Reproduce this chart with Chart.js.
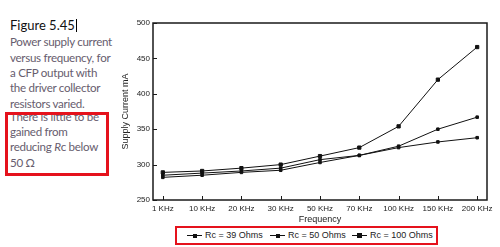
<!DOCTYPE html>
<html><head><meta charset="utf-8">
<script src="https://cdn.jsdelivr.net/npm/chart.js@4.4.0/dist/chart.umd.min.js"></script>
<style>
html,body{margin:0;padding:0;background:#fff;width:500px;height:247px;overflow:hidden;position:relative}
#wrap{position:absolute;left:110px;top:0;width:390px;height:225px}
.t{position:absolute;left:10px;white-space:nowrap;font-family:Lato,sans-serif;font-size:11.6px;letter-spacing:-0.3px;color:#675d6e;line-height:14px}
#fig{position:absolute;left:10px;top:18px;font-family:Lato,sans-serif;font-size:13px;color:#111;line-height:14px;white-space:nowrap}
#cur{display:inline-block;width:1px;height:13px;background:#000;vertical-align:-2px;margin-left:1px}
#box{position:absolute;left:5px;top:112px;width:98px;height:58px;border:3px solid #e5121c}
#legend{position:absolute;left:175px;top:226px;width:259px;height:15px;border:2.5px solid #e5121c;background:#fff;font-family:"Liberation Sans",Arial,sans-serif;font-size:9px;color:#222}
.item{position:absolute;top:0;height:15px;line-height:15px;white-space:nowrap}
.mk{position:absolute;top:7px;height:1px;background:#111}
.dot{position:absolute;background:#111}
</style></head>
<body>
<div id="fig">Figure 5.45<span id="cur"></span></div>
<div class="t" style="top:35px">Power supply current</div>
<div class="t" style="top:51px">versus frequency, for</div>
<div class="t" style="top:66px">a CFP output with</div>
<div class="t" style="top:81px">the driver collector</div>
<div class="t" style="top:97px">resistors varied.</div>
<div class="t" style="top:110px">There is little to be</div>
<div class="t" style="top:125px">gained from</div>
<div class="t" style="top:140px">reducing <i>R</i>c below</div>
<div class="t" style="top:156px">50 Ω</div>
<div id="box"></div>
<div id="wrap"><canvas id="c"></canvas></div>
<div id="legend"></div>
<script>
const categories = ['1 KHz','10 KHz','20 KHz','30 KHz','50 KHz','70 KHz','100 KHz','150 KHz','200 KHz'];
const rc39  = [282, 285, 289, 292, 303, 313, 324, 332, 338];
const rc50  = [285, 288, 291, 295, 307, 313, 326, 350, 367];
const rc100 = [289, 291, 295, 300, 312, 324, 354, 420, 466];
const seriesLabels = ['Rc = 39 Ohms','Rc = 50 Ohms','Rc = 100 Ohms'];
const yTicks = [250, 300, 350, 400, 450, 500];

const seriesValues = [rc39, rc50, rc100];
const markerSize = [3, 3, 4];
const legendLeft = [10, 93, 175];

const framePlugin = {
  id: 'frame',
  afterDatasetsDraw(chart) {
    const {ctx, chartArea: a, scales: {x, y}} = chart;
    ctx.save();
    ctx.strokeStyle = '#1a1a1a';
    ctx.lineWidth = 1.5;
    ctx.strokeRect(a.left, a.top, a.right - a.left, a.bottom - a.top);
    ctx.lineWidth = 1;
    ctx.beginPath();
    y.ticks.forEach(t => { const py = Math.round(y.getPixelForValue(t.value)) + 0.5; ctx.moveTo(a.left, py); ctx.lineTo(a.left + 4, py); });
    x.ticks.forEach(t => { const px = Math.round(x.getPixelForValue(t.value)) + 0.5; ctx.moveTo(px, a.bottom); ctx.lineTo(px, a.bottom - 4); });
    ctx.stroke();
    ctx.restore();
  }
};

const font = {family: '"Liberation Sans", Arial, sans-serif', size: 8};
new Chart(document.getElementById('c'), {
  type: 'line',
  data: {
    datasets: seriesValues.map((vals, i) => ({
      label: seriesLabels[i],
      data: vals.map((v, j) => ({x: j, y: v})),
      borderColor: '#111',
      backgroundColor: '#111',
      borderWidth: 1,
      pointStyle: 'rect',
      pointRadius: markerSize[i] / 2 + 0.3,
      pointHoverRadius: 2,
      tension: 0
    }))
  },
  options: {
    responsive: true, maintainAspectRatio: false, animation: false,
    layout: {padding: {top: 23, right: 13, left: 0, bottom: 0}},
    plugins: {legend: {display: false}, tooltip: {enabled: false}},
    scales: {
      x: {
        type: 'linear', min: -0.25, max: 8.25,
        afterBuildTicks: s => { s.ticks = categories.map((_, i) => ({value: i})); },
        afterFit: s => { s.height = 25; },
        grid: {display: false, drawTicks: false}, border: {display: false},
        ticks: {font, color: '#222', padding: 4, maxRotation: 0, autoSkip: false, callback: v => categories[v]},
        title: {display: true, text: 'Frequency', font: {family: font.family, size: 9}, color: '#222', padding: {top: 0, bottom: 0}}
      },
      y: {
        min: 250, max: 500,
        afterBuildTicks: s => { s.ticks = yTicks.map(v => ({value: v})); },
        afterFit: s => { s.width = 43; },
        grid: {display: false, drawTicks: false}, border: {display: false},
        ticks: {font, color: '#222', padding: 3},
        title: {display: true, text: 'Supply Current mA', font: {family: font.family, size: 9}, color: '#222', padding: {top: 10, bottom: 0}}
      }
    }
  },
  plugins: [framePlugin]
});

const lg = document.getElementById('legend');
seriesLabels.forEach((lab, i) => {
  const it = document.createElement('div');
  it.className = 'item';
  it.style.left = legendLeft[i] + 'px';
  const mk = document.createElement('span');
  mk.className = 'mk'; mk.style.left = '0px'; mk.style.width = '15px';
  const d = document.createElement('span');
  d.className = 'dot';
  const s = markerSize[i] + 1;
  d.style.width = s + 'px'; d.style.height = s + 'px';
  d.style.left = (7.5 - s / 2) + 'px'; d.style.top = (0.5 - s / 2) + 'px';
  mk.appendChild(d);
  const tx = document.createElement('span');
  tx.textContent = lab;
  tx.style.marginLeft = '18px';
  it.appendChild(mk); it.appendChild(tx);
  lg.appendChild(it);
});
</script>
</body></html>
